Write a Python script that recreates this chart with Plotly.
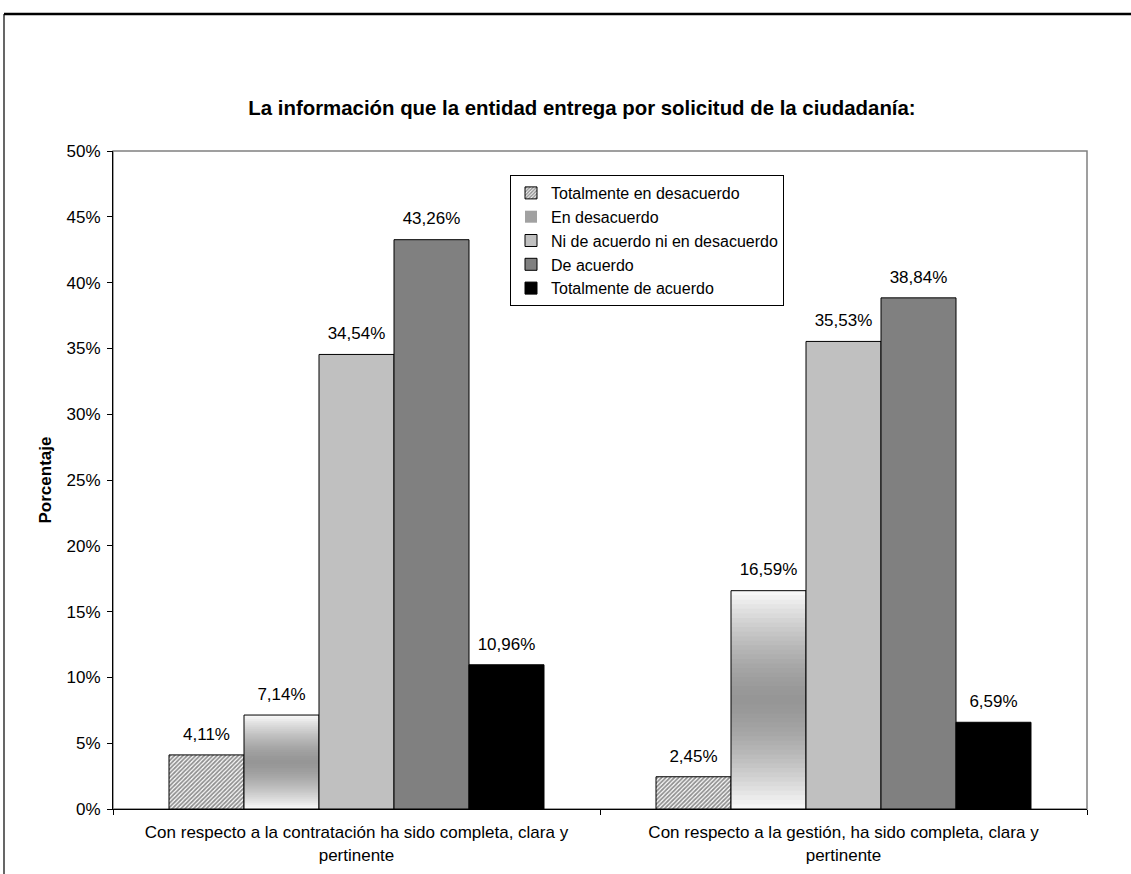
import plotly.graph_objects as go

categories = [
    "Con respecto a la contratación ha sido completa, clara y<br>pertinente",
    "Con respecto a la gestión, ha sido completa, clara y<br>pertinente",
]
series_names = [
    "Totalmente en desacuerdo",
    "En desacuerdo",
    "Ni de acuerdo ni en desacuerdo",
    "De acuerdo",
    "Totalmente de acuerdo",
]
totalmente_desacuerdo = [4.11, 2.45]
en_desacuerdo = [7.14, 16.59]
ni_ni = [34.54, 35.53]
de_acuerdo = [43.26, 38.84]
totalmente_acuerdo = [10.96, 6.59]

y_ticks = [0, 5, 10, 15, 20, 25, 30, 35, 40, 45, 50]
y_tick_labels = ["0%", "5%", "10%", "15%", "20%", "25%", "30%", "35%", "40%", "45%", "50%"]

FONT = "Liberation Sans, Arial, sans-serif"
fig = go.Figure()
bar_common = dict(x=categories, hoverinfo="skip")

# 1: hatched
fig.add_trace(go.Bar(
    y=totalmente_desacuerdo, name=series_names[0], offsetgroup="g1",
    legendgroup="l1", legendrank=1,
    marker=dict(color="white", line=dict(color="black", width=1),
                pattern=dict(shape="/", fgcolor="#222222", bgcolor="white",
                             size=3, solidity=0.6)),
    **bar_common))

# 2: gradient bar, drawn as nested bars of the same values (largest first)
N = 48
leg_k = int(N * 0.62)
for k in range(N):
    frac = (N - k) / N
    t = (N - k - 0.5) / N
    d = abs(2 * t - 1)
    g = int(round(150 + 100 * d ** 1.5))
    col = f"rgb({g},{g},{g})"
    fig.add_trace(go.Bar(
        y=[v * frac for v in en_desacuerdo],
        offsetgroup="g2",
        name=series_names[1], legendgroup="l2", legendrank=2,
        showlegend=(k == leg_k),
        marker=dict(color=col, line=dict(width=0)),
        **bar_common))
fig.add_trace(go.Bar(
    y=en_desacuerdo, name=series_names[1], offsetgroup="g2", showlegend=False,
    legendgroup="l2",
    marker=dict(color="rgba(0,0,0,0)", line=dict(color="black", width=1)),
    **bar_common))

fig.add_trace(go.Bar(
    y=ni_ni, name=series_names[2], offsetgroup="g3", legendgroup="l3", legendrank=3,
    marker=dict(color="#C0C0C0", line=dict(color="black", width=1)), **bar_common))
fig.add_trace(go.Bar(
    y=de_acuerdo, name=series_names[3], offsetgroup="g4", legendgroup="l4", legendrank=4,
    marker=dict(color="#808080", line=dict(color="black", width=1)), **bar_common))
fig.add_trace(go.Bar(
    y=totalmente_acuerdo, name=series_names[4], offsetgroup="g5", legendgroup="l5", legendrank=5,
    marker=dict(color="#000000", line=dict(color="black", width=1)), **bar_common))

# value labels, aligned with the grouped bars
all_series = [totalmente_desacuerdo, en_desacuerdo, ni_ni, de_acuerdo, totalmente_acuerdo]
for i, vals in enumerate(all_series):
    fig.add_trace(go.Scatter(
        x=categories, y=vals, mode="markers+text", offsetgroup=f"g{i+1}",
        texttemplate="%{y:.2f}%", textposition="top center",
        textfont=dict(size=17, color="black", family=FONT),
        marker=dict(size=16, color="rgba(0,0,0,0)"),
        showlegend=False, hoverinfo="skip", cliponaxis=False))

fig.update_layout(
    width=1131, height=874,
    margin=dict(l=113, r=44, t=151, b=65),
    paper_bgcolor="white", plot_bgcolor="white",
    barmode="group", bargap=0.23, bargroupgap=0,
    scattermode="group", scattergap=0.23,
    separators=",.",
    font=dict(family=FONT, size=17, color="black"),
    title=dict(text="<b>La información que la entidad entrega por solicitud de la ciudadanía:</b>",
               x=0.5146, xref="container", xanchor="center",
               y=1 - 108 / 874, yref="container", yanchor="middle",
               font=dict(size=20.4, family=FONT, color="black")),
    showlegend=True,
    legend=dict(x=(510 - 113) / 974, y=(809 - 175) / 658, xanchor="left", yanchor="top",
                bgcolor="white", bordercolor="black", borderwidth=1,
                font=dict(size=16, family=FONT), tracegroupgap=0,
                traceorder="grouped"),
    xaxis=dict(showline=True, linecolor="black", linewidth=1, automargin=False,
               ticks="outside", tickson="boundaries", ticklen=5, tickcolor="black",
               showgrid=False, tickfont=dict(size=17), ticklabelstandoff=8),
    yaxis=dict(range=[0, 50], tickvals=y_ticks, ticktext=y_tick_labels,
               showline=True, linecolor="black", linewidth=1, automargin=False,
               ticks="outside", ticklen=5, tickcolor="black", showgrid=False,
               zeroline=False, tickfont=dict(size=17), ticklabelstandoff=3,
               title=dict(text="<b>Porcentaje</b>", font=dict(size=17), standoff=10)),
    shapes=[
        dict(type="rect", xref="paper", yref="paper", x0=0, y0=0, x1=1, y1=1,
             line=dict(color="#808080", width=1.5), layer="below"),
        dict(type="line", xref="paper", yref="paper",
             x0=(4 - 113) / 974, x1=1.06, y0=(809 - 14) / 658, y1=(809 - 14) / 658,
             line=dict(color="black", width=2.5)),
        dict(type="line", xref="paper", yref="paper",
             x0=(4 - 113) / 974, x1=(4 - 113) / 974, y0=(809 - 14) / 658, y1=-0.12,
             line=dict(color="black", width=1.2)),
    ],
)

fig.write_html("out.html", config={"displayModeBar": False},
               post_script="document.body.style.margin='0';")
